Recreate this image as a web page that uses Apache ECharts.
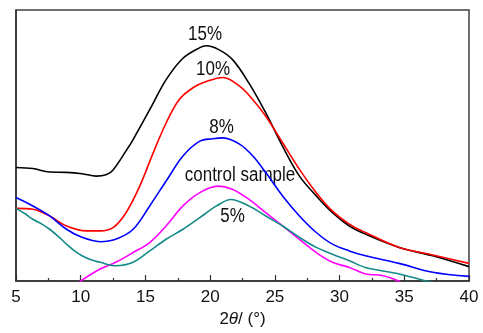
<!DOCTYPE html>
<html><head><meta charset="utf-8">
<script src="https://cdn.jsdelivr.net/npm/echarts@6/dist/echarts.min.js"></script>
<style>html,body{margin:0;padding:0;background:#fff}#c{width:483px;height:333px}</style>
</head><body><div id="c"></div>
<script>
// 2θ values and intensities (arbitrary units)
const s15 = [[5,41.9],[6.3,41.5],[7.6,40.2],[8.9,40.1],[10.1,39.6],[11.2,38.7],[12.0,39.3],[12.5,41.0],[13.5,48.0],[14.05,52.2],[15.33,63.2],[16.6,74.3],[17.9,82.2],[19.2,86.1],[19.7,86.8],[20.7,85.3],[21.75,81.6],[23.0,73.0],[24.3,62.0],[25.6,49.7],[26.9,38.7],[28.2,31.4],[29.45,25.2],[30.75,20.3],[32.0,17.3],[34.6,12.4],[37.2,9.3],[40,5.3]];
const s10 = [[5,26.8],[6.3,26.5],[7.6,24.0],[8.9,20.3],[10.45,18.5],[11.5,18.5],[12.5,19.7],[13.5,25.2],[14.56,35.0],[15.6,47.3],[16.6,58.3],[17.6,66.9],[18.7,71.4],[19.7,73.6],[21.0,75.1],[22.3,71.8],[23.3,66.9],[24.3,60.8],[25.6,51.0],[26.9,41.2],[28.2,32.6],[29.45,25.8],[30.75,21.0],[32.0,17.9],[34.6,12.4],[37.2,9.6],[40,6.5]];
const s8 = [[5,30.8],[6.3,27.7],[7.6,24.0],[8.9,19.1],[10.1,16.1],[11.5,14.5],[12.7,15.4],[14.05,19.1],[15.33,27.7],[16.6,36.9],[17.9,46.1],[19.2,51.6],[20.2,52.5],[21.0,52.8],[22.3,50.4],[23.3,46.1],[24.3,40.0],[25.6,31.4],[26.9,24.0],[28.2,17.9],[29.45,13.6],[30.75,11.1],[32.0,9.3],[34.6,6.5],[37.2,3.2],[40,1.7]];
const sCtrl = [[9.9,-0.3],[11.5,4.4],[12.7,6.9],[14.05,10.5],[15.33,14.2],[16.6,20.3],[17.9,27.7],[19.2,32.6],[20.6,35.0],[21.75,33.8],[23.0,30.1],[24.3,25.2],[25.6,20.3],[26.9,15.4],[28.2,10.5],[29.45,6.9],[30.75,5.0],[32.0,2.6],[33.3,2.0],[34.7,-0.3]];
const s5 = [[5,26.8],[5.7,24.8],[6.3,22.8],[7.0,21.0],[7.6,19.1],[8.3,16.3],[8.9,13.6],[9.5,11.2],[10.1,9.3],[10.8,7.8],[11.5,6.9],[12.7,5.6],[14.05,6.9],[15.33,11.1],[16.6,15.4],[17.9,19.1],[19.2,23.4],[20.5,27.7],[21.6,30.1],[23.0,27.7],[24.3,24.0],[25.6,20.3],[26.9,16.1],[28.2,12.4],[29.45,9.9],[30.75,7.5],[32.0,5.0],[34.6,2.6],[36.6,0.1],[37.2,-0.5]];
const xTicks = [5,10,15,20,25,30,35,40];
const seriesNames = ['15%','10%','8%','control sample','5%'];
const seriesColors = ['#000000','#ff0000','#0000ff','#ff00ff','#158a88'];
const seriesData = [s15,s10,s8,sCtrl,s5];

const FONT = '"Liberation Sans",Arial,sans-serif';
const chart = echarts.init(document.getElementById('c'), null, {renderer:'canvas'});
function lab(text,x,y){
  return {type:'text',x:x,y:y,scaleX:0.85,style:{text:text,font:'20px '+FONT,fill:'#111',align:'center',verticalAlign:'middle'}};
}
chart.setOption({
  animation:false,
  backgroundColor:'#fff',
  grid:{left:16,right:14,top:10,bottom:51,show:true,borderColor:'#404040',borderWidth:1.5,backgroundColor:'transparent'},
  xAxis:{type:'value',min:5,max:40,interval:5,
    axisLine:{lineStyle:{color:'#303030',width:1.5}},
    axisTick:{inside:true,length:6,lineStyle:{color:'#303030',width:1.2}},
    minorTick:{show:true,splitNumber:2,length:3,lineStyle:{color:'#303030',width:1.2}},
    splitLine:{show:false},
    axisLabel:{fontFamily:FONT,fontSize:17,color:'#111',margin:8,
      formatter:v=>xTicks.includes(v)?String(v):''},
    name:'{n|2}{t|θ}{n|/ (°)}',nameLocation:'middle',nameGap:30,
    nameTextStyle:{rich:{n:{fontFamily:FONT,fontSize:17,color:'#111'},t:{fontFamily:FONT,fontSize:17,fontStyle:'italic',color:'#111'}}}
  },
  yAxis:{type:'value',min:0,max:100,show:true,
    axisLine:{show:true,lineStyle:{color:'#303030',width:1.5}},
    axisTick:{show:false},axisLabel:{show:false},splitLine:{show:false}},
  series:seriesData.map((d,i)=>({name:seriesNames[i],type:'line',data:d,smooth:0.35,showSymbol:false,
    clip:true,lineStyle:{color:seriesColors[i],width:1.6}})),
  graphic:[
    lab('15%',205,34),
    lab('10%',213,69),
    lab('8%',221.5,127),
    lab('control sample',240,175),
    lab('5%',232.5,216)
  ]
});
</script></body></html>
